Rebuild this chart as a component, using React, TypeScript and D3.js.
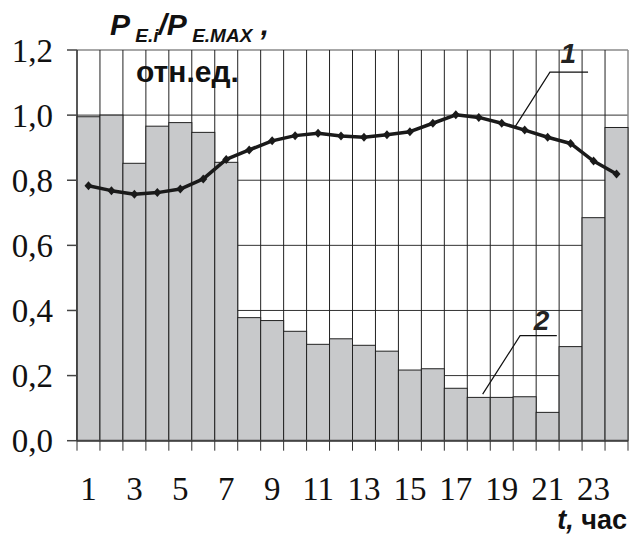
import React from 'react';
import * as d3 from 'd3';

// hourly values, relative units
const hours = d3.range(1, 25);
const energyShare = [0.995, 1.0, 0.852, 0.966, 0.977, 0.947, 0.855, 0.378, 0.369, 0.336, 0.296, 0.313,
  0.293, 0.275, 0.217, 0.221, 0.161, 0.133, 0.133, 0.135, 0.087, 0.289, 0.685, 0.962];
const loadCurve = [0.783, 0.768, 0.757, 0.762, 0.773, 0.804, 0.864, 0.893, 0.921, 0.937, 0.944, 0.936,
  0.932, 0.940, 0.949, 0.975, 1.001, 0.993, 0.975, 0.954, 0.932, 0.913, 0.859, 0.819];
const yTicks = [0, 0.2, 0.4, 0.6, 0.8, 1.0, 1.2];
const xLabels = [1, 3, 5, 7, 9, 11, 13, 15, 17, 19, 21, 23];

const W = 631, H = 534;
const left = 77, right = 628, top = 50, bottom = 440.7;

export default function App() {
  const x = d3.scaleLinear().domain([0, 24]).range([left, right]);
  const y = d3.scaleLinear().domain([0, 1.2]).range([bottom, top]);

  const line = d3.line<number>()
    .x((d, i) => x(i + 0.5))
    .y(d => y(d));

  const serif = '"Liberation Serif", "Times New Roman", serif';
  const sans = '"Liberation Sans", Arial, sans-serif';
  const fmt = (v: number) => v.toFixed(1).replace('.', ',');

  return (
    <svg width={W} height={H} style={{ position: 'absolute', left: 0, top: 0, background: '#fff' }}>
      {/* horizontal grid */}
      {yTicks.map(t => (
        <line key={'h' + t} x1={x(0)} x2={x(24)} y1={y(t)} y2={y(t)}
          stroke={t === 1.2 ? '#8a8a8a' : '#333'} strokeWidth={t === 1.2 ? 1.5 : 1} />
      ))}
      {/* vertical grid */}
      {d3.range(0, 25).map(i => (
        <line key={'v' + i} x1={x(i)} x2={x(i)} y1={y(1.2)} y2={y(0)}
          stroke={i === 24 ? '#8a8a8a' : '#222'} strokeWidth={i === 24 ? 1.5 : 1} />
      ))}
      {/* bars */}
      {energyShare.map((v, i) => (
        <rect key={'b' + i} x={x(i)} y={y(v)} width={x(i + 1) - x(i)} height={y(0) - y(v)}
          fill="#c8c9cb" stroke="#222" strokeWidth={1} />
      ))}
      {/* axes */}
      <line x1={x(0)} x2={x(24)} y1={y(0)} y2={y(0)} stroke="#444" strokeWidth={2} />
      <line x1={x(0)} x2={x(0)} y1={y(1.2)} y2={y(0)} stroke="#333" strokeWidth={1.2} />
      {yTicks.map(t => (
        <g key={'yt' + t}>
          <line x1={x(0) - 10} x2={x(0)} y1={y(t)} y2={y(t)} stroke="#444" strokeWidth={1.5} />
          <text x={53} y={y(t)} dy="0.35em" textAnchor="end" fontFamily={serif} fontSize={33} fill="#111">
            {fmt(t)}
          </text>
        </g>
      ))}
      {d3.range(0, 25).map(i => (
        <line key={'xt' + i} x1={x(i)} x2={x(i)} y1={y(0)} y2={y(0) + 10} stroke="#333" strokeWidth={1} />
      ))}
      {xLabels.map(h => (
        <text key={'xl' + h} x={x(h - 0.5)} y={500} textAnchor="middle" fontFamily={serif} fontSize={33} fill="#111">
          {h}
        </text>
      ))}

      {/* curve 1 */}
      <path d={line(loadCurve) || ''} fill="none" stroke="#1a1a1a" strokeWidth={3.5} strokeLinejoin="round" />
      {loadCurve.map((v, i) => {
        const cx = x(i + 0.5), cy = y(v);
        return <path key={'m' + i} d={`M${cx},${cy - 4.5}L${cx + 4},${cy}L${cx},${cy + 4.5}L${cx - 4},${cy}Z`} fill="#1a1a1a" />;
      })}

      {/* leaders */}
      <polyline points={`${x(22.26)},${y(1.132)} ${x(20.6)},${y(1.132)} ${x(19.08)},${y(0.964)}`}
        fill="none" stroke="#111" strokeWidth={1.2} />
      <text x={x(21.4)} y={y(1.16)} textAnchor="middle" fontFamily={sans} fontWeight="bold" fontStyle="italic" fontSize={28} fill="#222">1</text>
      <polyline points={`${x(20.9)},${y(0.3225)} ${x(19.3)},${y(0.3225)} ${x(17.67)},${y(0.143)}`}
        fill="none" stroke="#111" strokeWidth={1.2} />
      <text x={x(20.23)} y={y(0.34)} textAnchor="middle" fontFamily={sans} fontWeight="bold" fontStyle="italic" fontSize={28} fill="#222">2</text>

      {/* axis titles */}
      <text x={110} y={35} fontFamily={sans} fontWeight="bold" fontStyle="italic" fontSize={30} fill="#111">
        P<tspan fontSize={19} dy={7}> E.i</tspan><tspan fontSize={30} dy={-7}>/P</tspan>
        <tspan fontSize={19} dy={7}> E.MAX</tspan><tspan fontSize={30} dy={-7}> ,</tspan>
      </text>
      <text x={136} y={82} fontFamily={sans} fontWeight="bold" fontSize={30} fill="#111">отн.ед.</text>
      <text x={627} y={529} textAnchor="end" fontFamily={sans} fontWeight="bold" fontSize={27} fill="#111">
        <tspan fontStyle="italic">t,</tspan> час
      </text>
    </svg>
  );
}
